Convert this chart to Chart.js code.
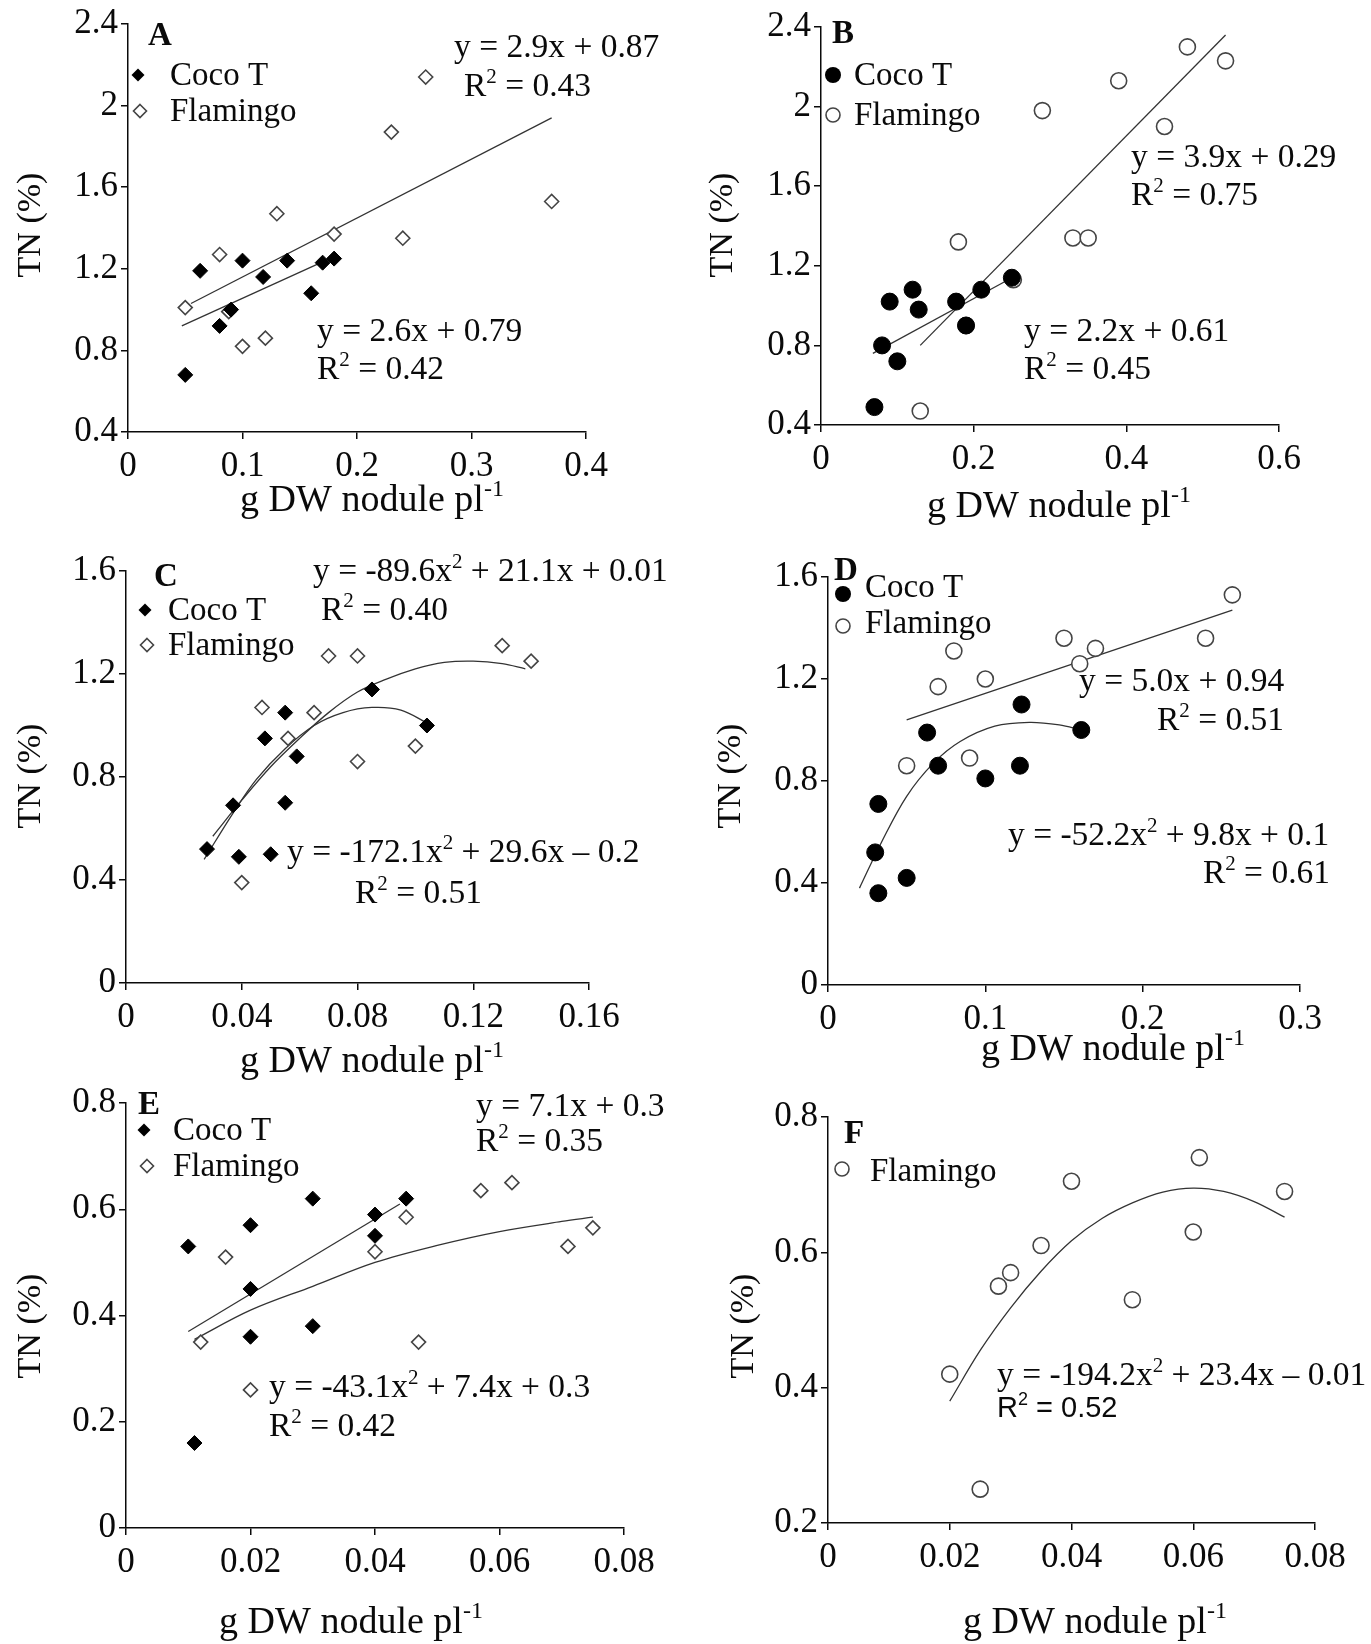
<!DOCTYPE html>
<html><head><meta charset="utf-8">
<script src="https://cdn.jsdelivr.net/npm/chart.js@4.4.1/dist/chart.umd.min.js"></script>
<style>
html,body{margin:0;padding:0;background:#fff;}
#wrap{position:relative;width:1371px;height:1644px;background:#fff;overflow:hidden;}
#wrap canvas{position:absolute;left:0;top:0;}
</style></head><body><div id="wrap"></div>
<script>
// ---------------- DATA ----------------
// Panel A
const A_xTicks = [0, 0.1, 0.2, 0.3, 0.4];
const A_yTicks = [0.4, 0.8, 1.2, 1.6, 2.0, 2.4];
const A_cocoX = [0.05, 0.063, 0.08, 0.09, 0.1, 0.118, 0.139, 0.16, 0.17, 0.18];
const A_cocoY = [0.68, 1.19, 0.92, 1.00, 1.24, 1.16, 1.24, 1.08, 1.23, 1.25];
const A_flamX = [0.05, 0.08, 0.088, 0.1, 0.12, 0.13, 0.18, 0.23, 0.24, 0.26, 0.37];
const A_flamY = [1.01, 1.27, 0.99, 0.82, 0.86, 1.47, 1.37, 1.87, 1.35, 2.14, 1.53];
const A_fitCocoX = [0.047, 0.18];
const A_fitCocoY = [0.92, 1.26];
const A_fitFlamX = [0.055, 0.37];
const A_fitFlamY = [1.03, 1.94];
// Panel B
const B_xTicks = [0, 0.2, 0.4, 0.6];
const B_yTicks = [0.4, 0.8, 1.2, 1.6, 2.0, 2.4];
const B_cocoX = [0.07, 0.08, 0.09, 0.1, 0.12, 0.128, 0.177, 0.19, 0.21, 0.25];
const B_cocoY = [0.49, 0.80, 1.02, 0.72, 1.08, 0.98, 1.02, 0.90, 1.08, 1.14];
const B_flamX = [0.13, 0.18, 0.19, 0.252, 0.29, 0.33, 0.35, 0.39, 0.45, 0.48, 0.53];
const B_flamY = [0.47, 1.32, 0.90, 1.13, 1.98, 1.34, 1.34, 2.13, 1.90, 2.30, 2.23];
const B_fitCocoX = [0.068, 0.255];
const B_fitCocoY = [0.76, 1.15];
const B_fitFlamX = [0.13, 0.53];
const B_fitFlamY = [0.80, 2.36];
// Panel C
const C_xTicks = [0, 0.04, 0.08, 0.12, 0.16];
const C_yTicks = [0, 0.4, 0.8, 1.2, 1.6];
const C_cocoX = [0.028, 0.037, 0.039, 0.048, 0.05, 0.055, 0.055, 0.059, 0.085, 0.104];
const C_cocoY = [0.52, 0.69, 0.49, 0.95, 0.50, 1.05, 0.70, 0.88, 1.14, 1.00];
const C_flamX = [0.04, 0.047, 0.056, 0.065, 0.07, 0.08, 0.08, 0.1, 0.13, 0.14];
const C_flamY = [0.39, 1.07, 0.95, 1.05, 1.27, 1.27, 0.86, 0.92, 1.31, 1.25];
const C_fitCocoX = [0.027, 0.037, 0.045, 0.055, 0.065, 0.075, 0.085, 0.095, 0.104];
const C_fitCocoY = [0.48, 0.66, 0.79, 0.91, 1.00, 1.05, 1.07, 1.06, 1.01];
const C_fitFlamX = [0.03, 0.04, 0.05, 0.06, 0.07, 0.08, 0.09, 0.10, 0.11, 0.12, 0.13, 0.138];
const C_fitFlamY = [0.57, 0.71, 0.84, 0.95, 1.05, 1.13, 1.18, 1.22, 1.245, 1.25, 1.24, 1.22];
// Panel D
const D_xTicks = [0, 0.1, 0.2, 0.3];
const D_yTicks = [0, 0.4, 0.8, 1.2, 1.6];
const D_cocoX = [0.03, 0.032, 0.032, 0.05, 0.063, 0.07, 0.1, 0.122, 0.123, 0.161];
const D_cocoY = [0.52, 0.71, 0.36, 0.42, 0.99, 0.86, 0.81, 0.86, 1.10, 1.00];
const D_flamX = [0.05, 0.07, 0.08, 0.09, 0.1, 0.15, 0.16, 0.17, 0.24, 0.257];
const D_flamY = [0.86, 1.17, 1.31, 0.89, 1.20, 1.36, 1.26, 1.32, 1.36, 1.53];
const D_fitCocoX = [0.02, 0.034, 0.05, 0.067, 0.084, 0.106, 0.128, 0.147, 0.161];
const D_fitCocoY = [0.38, 0.56, 0.74, 0.87, 0.955, 1.015, 1.03, 1.02, 1.00];
const D_fitFlamX = [0.05, 0.257];
const D_fitFlamY = [1.04, 1.47];
// Panel E
const E_xTicks = [0, 0.02, 0.04, 0.06, 0.08];
const E_yTicks = [0, 0.2, 0.4, 0.6, 0.8];
const E_cocoX = [0.01, 0.011, 0.02, 0.02, 0.02, 0.03, 0.03, 0.04, 0.04, 0.045];
const E_cocoY = [0.53, 0.16, 0.57, 0.45, 0.36, 0.62, 0.38, 0.59, 0.55, 0.62];
const E_flamX = [0.012, 0.016, 0.02, 0.04, 0.045, 0.047, 0.057, 0.062, 0.071, 0.075];
const E_flamY = [0.35, 0.51, 0.26, 0.52, 0.585, 0.35, 0.635, 0.65, 0.53, 0.565];
const E_fitCocoX = [0.01, 0.044];
const E_fitCocoY = [0.37, 0.61];
const E_fitFlamX = [0.011, 0.02, 0.03, 0.04, 0.05, 0.06, 0.07, 0.075];
const E_fitFlamY = [0.355, 0.41, 0.455, 0.50, 0.532, 0.558, 0.577, 0.585];
// Panel F
const F_xTicks = [0, 0.02, 0.04, 0.06, 0.08];
const F_yTicks = [0.2, 0.4, 0.6, 0.8];
const F_flamX = [0.02, 0.025, 0.028, 0.03, 0.035, 0.04, 0.05, 0.06, 0.061, 0.075];
const F_flamY = [0.42, 0.25, 0.55, 0.57, 0.61, 0.705, 0.53, 0.63, 0.74, 0.69];
const F_fitFlamX = [0.02, 0.025, 0.03, 0.035, 0.04, 0.045, 0.05, 0.055, 0.06, 0.065, 0.07, 0.075];
const F_fitFlamY = [0.38, 0.455, 0.518, 0.572, 0.617, 0.65, 0.673, 0.689, 0.695, 0.69, 0.675, 0.652];

const seriesNames = ['Coco T', 'Flamingo'];
const xTitle = 'g DW nodule pl';
const yTitle = 'TN (%)';

// ---------------- RENDERING ----------------
const W = 1371, H = 1644;
const SERIF = '"Liberation Serif","Times New Roman",serif';
const SANS = '"Liberation Sans",Arial,sans-serif';
const INK = '#0a0a0a';
const pts = (xs, ys) => xs.map((x, i) => ({x, y: ys[i]}));
const fmt = v => String(parseFloat(Number(v).toFixed(3)));

function drawRich(ctx, x, y, parts, o) {
  const size = o.size || 32, fam = o.family || SERIF, wt = o.weight || 'normal';
  const norm = `${wt} ${size}px ${fam}`, small = `${wt} ${Math.round(size * 0.62)}px ${fam}`;
  const segs = parts.map(p => typeof p === 'string' ? {t: p, f: norm, dy: 0} : {t: p.s, f: small, dy: -size * 0.4});
  let w = 0;
  segs.forEach(s => { ctx.font = s.f; s.w = ctx.measureText(s.t).width; w += s.w; });
  let cx = o.align === 'right' ? x - w : (o.align === 'center' ? x - w / 2 : x);
  ctx.textBaseline = 'alphabetic'; ctx.textAlign = 'left'; ctx.fillStyle = o.color || INK;
  segs.forEach(s => { ctx.font = s.f; ctx.fillText(s.t, cx, y + s.dy); cx += s.w; });
}
function drawMarker(ctx, style, filled, x, y, r) {
  ctx.save();
  ctx.beginPath();
  if (style === 'diamond') { ctx.moveTo(x, y - r); ctx.lineTo(x + r, y); ctx.lineTo(x, y + r); ctx.lineTo(x - r, y); ctx.closePath(); }
  else { ctx.arc(x, y, r, 0, Math.PI * 2); }
  if (filled) { ctx.fillStyle = '#000'; ctx.fill(); }
  else { ctx.fillStyle = '#fff'; ctx.fill(); ctx.lineWidth = 1.6; ctx.strokeStyle = '#444'; ctx.stroke(); }
  ctx.restore();
}

const EQ = 33.5, LEG = 33, TICK = 35;

const panels = [
  {area: [128, 23, 586, 432], xT: A_xTicks, yT: A_yTicks, style: 'diamond',
   series: [[A_cocoX, A_cocoY], [A_flamX, A_flamY]], fits: [[A_fitCocoX, A_fitCocoY, false], [A_fitFlamX, A_fitFlamY, false]],
   letter: ['A', 148, 45],
   legend: [[0, 138, 75, 170, 85], [1, 140, 111, 170, 121]],
   eqs: [[454, 57, ['y = 2.9x + 0.87']], [464, 96, ['R', {s: '2'}, ' = 0.43']], [317, 341, ['y = 2.6x + 0.79']], [317, 379, ['R', {s: '2'}, ' = 0.42']]],
   xt: [372, 511], yt: [29, 225]},
  {area: [821, 27, 1279, 425], xT: B_xTicks, yT: B_yTicks, style: 'circle',
   series: [[B_cocoX, B_cocoY], [B_flamX, B_flamY]], fits: [[B_fitCocoX, B_fitCocoY, false], [B_fitFlamX, B_fitFlamY, false]],
   letter: ['B', 832, 43],
   legend: [[0, 833, 75, 854, 85], [1, 833, 115, 854, 125]],
   eqs: [[1131, 167, ['y = 3.9x + 0.29']], [1131, 205, ['R', {s: '2'}, ' = 0.75']], [1024, 341, ['y = 2.2x + 0.61']], [1024, 379, ['R', {s: '2'}, ' = 0.45']]],
   xt: [1059, 517], yt: [721, 225]},
  {area: [126, 571, 589, 983], xT: C_xTicks, yT: C_yTicks, style: 'diamond',
   series: [[C_cocoX, C_cocoY], [C_flamX, C_flamY]], fits: [[C_fitCocoX, C_fitCocoY, true], [C_fitFlamX, C_fitFlamY, true]],
   letter: ['C', 154, 586],
   legend: [[0, 145, 610, 168, 620], [1, 147, 645, 168, 655]],
   eqs: [[313, 581, ['y = -89.6x', {s: '2'}, ' + 21.1x + 0.01']], [321, 620, ['R', {s: '2'}, ' = 0.40']], [287, 862, ['y = -172.1x', {s: '2'}, ' + 29.6x \u2013 0.2']], [355, 903, ['R', {s: '2'}, ' = 0.51']]],
   xt: [372, 1072], yt: [29, 776]},
  {area: [828, 577, 1300, 985], xT: D_xTicks, yT: D_yTicks, style: 'circle',
   series: [[D_cocoX, D_cocoY], [D_flamX, D_flamY]], fits: [[D_fitCocoX, D_fitCocoY, true], [D_fitFlamX, D_fitFlamY, false]],
   letter: ['D', 834, 580],
   legend: [[0, 843, 594, 865, 597], [1, 843, 626, 865, 633]],
   eqs: [[1079, 691, ['y = 5.0x + 0.94']], [1157, 730, ['R', {s: '2'}, ' = 0.51']], [1008, 845, ['y = -52.2x', {s: '2'}, ' + 9.8x + 0.1']], [1330, 883, ['R', {s: '2'}, ' = 0.61'], 'right']],
   xt: [1113, 1060], yt: [729, 776]},
  {area: [126, 1103, 624, 1528], xT: E_xTicks, yT: E_yTicks, style: 'diamond',
   series: [[E_cocoX, E_cocoY], [E_flamX, E_flamY]], fits: [[E_fitCocoX, E_fitCocoY, false], [E_fitFlamX, E_fitFlamY, true]],
   letter: ['E', 138, 1114],
   legend: [[0, 144, 1130, 173, 1140], [1, 147, 1166, 173, 1176]],
   eqs: [[476, 1116, ['y = 7.1x + 0.3']], [476, 1151, ['R', {s: '2'}, ' = 0.35']], [269, 1397, ['y = -43.1x', {s: '2'}, ' + 7.4x + 0.3']], [269, 1436, ['R', {s: '2'}, ' = 0.42']]],
   xt: [351, 1633], yt: [29, 1326]},
  {area: [828, 1117, 1315, 1523], xT: F_xTicks, yT: F_yTicks, style: 'circle',
   series: [null, [F_flamX, F_flamY]], fits: [null, [F_fitFlamX, F_fitFlamY, true]],
   letter: ['F', 844, 1143],
   legend: [[1, 842, 1169, 870, 1181]],
   eqs: [[997, 1385, ['y = -194.2x', {s: '2'}, ' + 23.4x \u2013 0.01']], [997, 1417, ['R', {s: '2'}, ' = 0.52'], 'left', SANS, 29]],
   xt: [1095, 1633], yt: [742, 1326]}
];

const YW = 80, XH = 70;
const wrap = document.getElementById('wrap');

panels.forEach((p, pi) => {
  const cv = document.createElement('canvas');
  cv.width = W; cv.height = H;
  cv.style.width = W + 'px'; cv.style.height = H + 'px';
  wrap.appendChild(cv);
  const [L, T, R, B] = p.area;
  const datasets = [];
  p.series.forEach((s, i) => {
    if (!s) return;
    const filled = i === 0;
    datasets.push({
      label: seriesNames[i], data: pts(s[0], s[1]), order: 0,
      pointStyle: p.style === 'diamond' ? 'rectRot' : 'circle',
      pointRadius: p.style === 'diamond' ? (filled ? 7.5 : 7) : (filled ? 8.5 : 8),
      pointBackgroundColor: filled ? '#000' : '#fff',
      pointBorderColor: filled ? '#000' : '#444',
      pointBorderWidth: filled ? 1 : 1.6,
      showLine: false
    });
  });
  p.fits.forEach((f, i) => {
    if (!f) return;
    datasets.push({
      label: seriesNames[i] + ' fit', data: pts(f[0], f[1]), order: 1,
      showLine: true, pointRadius: 0, borderColor: '#333', borderWidth: 1.3,
      tension: f[2] ? 0.35 : 0, fill: false
    });
  });
  const axisCommon = (ticksArr, isX) => ({
    type: 'linear', min: ticksArr[0], max: ticksArr[ticksArr.length - 1],
    afterBuildTicks: s => { s.ticks = ticksArr.map(v => ({value: v})); },
    afterFit: s => { if (isX) s.height = XH; else s.width = YW; },
    grid: {display: true, drawOnChartArea: false, drawTicks: true, tickLength: 7, color: INK, lineWidth: 1.5},
    border: {display: true, color: INK, width: 1.5},
    ticks: {font: {family: SERIF, size: TICK}, color: INK, padding: isX ? 7 : 3, maxRotation: 0, autoSkip: false,
            callback: v => fmt(v)}
  });
  const notes = {
    id: 'notes' + pi,
    afterDraw(chart) {
      const ctx = chart.ctx;
      ctx.save();
      drawRich(ctx, p.letter[1], p.letter[2], [p.letter[0]], {size: 33, weight: 'bold'});
      p.legend.forEach(l => {
        const filled = l[0] === 0;
        drawMarker(ctx, p.style, filled, l[1], l[2], p.style === 'diamond' ? 6.5 : (filled ? 8 : 7));
        drawRich(ctx, l[3], l[4], [seriesNames[l[0]]], {size: LEG});
      });
      p.eqs.forEach(e => drawRich(ctx, e[0], e[1], e[2], {size: e[5] || EQ, align: e[3] || 'left', family: e[4] || SERIF}));
      drawRich(ctx, p.xt[0], p.xt[1], [xTitle, {s: '-1'}], {size: 38, align: 'center'});
      ctx.translate(p.yt[0], p.yt[1]);
      ctx.rotate(-Math.PI / 2);
      drawRich(ctx, 0, 11, [yTitle], {size: 34, align: 'center'});
      ctx.restore();
    }
  };
  new Chart(cv, {
    type: 'scatter',
    data: {datasets},
    options: {
      responsive: false, animation: false, devicePixelRatio: 1,
      layout: {padding: {left: L - YW, top: T, right: W - R, bottom: H - B - XH}},
      plugins: {legend: {display: false}, tooltip: {enabled: false}, title: {display: false}},
      scales: {x: axisCommon(p.xT, true), y: axisCommon(p.yT, false)}
    },
    plugins: [notes]
  });
});
</script></body></html>
